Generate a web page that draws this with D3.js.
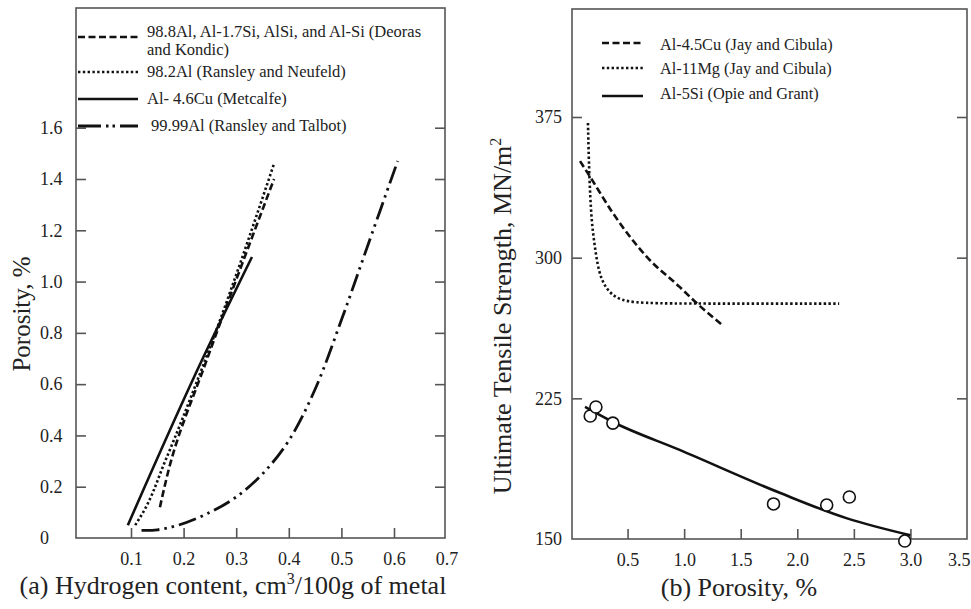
<!DOCTYPE html>
<html>
<head>
<meta charset="utf-8">
<script src="https://cdn.jsdelivr.net/npm/d3@7"></script>
<style>
  html, body { margin: 0; padding: 0; background: #fff; }
  svg { display: block; }
  text { font-family: "Liberation Serif", "Times New Roman", serif; fill: #222; }
</style>
</head>
<body>
<svg id="chart" width="971" height="609"></svg>
<script>
// ---------- DATA: panel (a) ----------
const aXTicks = [0.1, 0.2, 0.3, 0.4, 0.5, 0.6, 0.7];
const aYTicks = [0, 0.2, 0.4, 0.6, 0.8, 1.0, 1.2, 1.4, 1.6];
const aYTickLabels = ["0", "0.2", "0.4", "0.6", "0.8", "1.0", "1.2", "1.4", "1.6"];
const aDeorasH = [0.155, 0.176, 0.244, 0.372];
const aDeorasP = [0.12, 0.30, 0.694, 1.40];
const aNeufeldH = [0.108, 0.123, 0.165, 0.241, 0.372];
const aNeufeldP = [0.05, 0.10, 0.30, 0.694, 1.46];
const aMetcalfeH = [0.094, 0.235, 0.33];
const aMetcalfeP = [0.05, 0.694, 1.096];
const aTalbotH = [0.12, 0.15, 0.19, 0.25, 0.30, 0.35, 0.40, 0.45, 0.50, 0.55, 0.607];
const aTalbotP = [0.03, 0.032, 0.05, 0.10, 0.16, 0.25, 0.38, 0.58, 0.85, 1.14, 1.47];
const aLegend = [
  ["98.8Al, Al-1.7Si, AlSi, and Al-Si (Deoras", "and Kondic)"],
  ["98.2Al (Ransley and Neufeld)"],
  ["Al- 4.6Cu (Metcalfe)"],
  ["99.99Al (Ransley and Talbot)"]
];

// ---------- DATA: panel (b) ----------
const bXTicks = [0.5, 1.0, 1.5, 2.0, 2.5, 3.0, 3.5];
const bXTickLabels = ["0.5", "1.0", "1.5", "2.0", "2.5", "3.0", "3.5"];
const bYTicks = [150, 225, 300, 375];
const bCuPor = [0.08, 0.17, 0.37, 0.67, 0.96, 1.11, 1.34];
const bCuUTS = [351.5, 343, 323.8, 300.4, 284.4, 275.8, 264];
const bMgPor = [0.15, 0.16, 0.18, 0.21, 0.256, 0.37, 0.52, 1.0, 1.8, 2.37];
const bMgUTS = [371.8, 345, 320, 305.7, 288, 279, 275.8, 275.5, 275.5, 275.5];
const bSiPor = [0.124, 0.37, 0.96, 1.85, 2.44, 3.0];
const bSiUTS = [220.4, 212.4, 197.5, 174.5, 161, 152];
const bPtsPor = [0.17, 0.22, 0.37, 1.79, 2.26, 2.46, 2.95];
const bPtsUTS = [215.6, 220.4, 211.8, 168.7, 168.1, 172.4, 148.9];
const bLegend = ["Al-4.5Cu (Jay and Cibula)", "Al-11Mg (Jay and Cibula)", "Al-5Si (Opie and Grant)"];

const svg = d3.select("#chart");
const frameColor = "#555";
const serif = '"Liberation Serif", "Times New Roman", serif';
const zip = (xs, ys) => xs.map((x, i) => [x, ys[i]]);
const styleTicks = g => {
  g.select(".domain").remove();
  g.selectAll("line").attr("stroke", frameColor).attr("stroke-width", 1.6);
  g.selectAll("text").attr("font-size", 18).style("font-family", serif).attr("fill", "#222");
};

// ===================== PANEL (a) =====================
const ax = d3.scaleLinear().domain([0, 0.7]).range([78.4, 446.6]);
const ay = d3.scaleLinear().domain([0, 1.4]).range([538, 179]);
const aFrame = { x0: 76, x1: 445, y0: 8, y1: 538 };
const ga = svg.append("g");

ga.append("rect")
  .attr("x", aFrame.x0).attr("y", aFrame.y0)
  .attr("width", aFrame.x1 - aFrame.x0).attr("height", aFrame.y1 - aFrame.y0)
  .attr("fill", "none").attr("stroke", frameColor).attr("stroke-width", 1.6);

ga.append("g").attr("transform", `translate(${aFrame.x0},0)`)
  .call(d3.axisLeft(ay).tickValues(aYTicks).tickSize(-10).tickPadding(14)
    .tickFormat((d, i) => aYTickLabels[i]))
  .call(styleTicks)
  .call(g => {
    g.selectAll("line").filter(d => d === 0).remove();
    g.selectAll("text").attr("text-anchor", "start").attr("x", -36);
  });
ga.append("g").attr("transform", `translate(${aFrame.x1},0)`)
  .call(d3.axisRight(ay).tickValues(aYTicks.filter(d => d > 0)).tickSize(-10).tickFormat(""))
  .call(styleTicks);
ga.append("g").attr("transform", `translate(0,${aFrame.y1})`)
  .call(d3.axisBottom(ax).tickValues(aXTicks).tickSize(-10).tickPadding(14).tickFormat(d3.format(".1f")))
  .call(styleTicks)
  .call(g => g.selectAll("line").filter(d => d === 0.7).remove());

ga.append("text")
  .attr("transform", "translate(30,314) rotate(-90)")
  .attr("text-anchor", "middle").attr("font-size", 25)
  .text("Porosity, %");
const aXTitle = ga.append("text").attr("x", 233).attr("y", 594)
  .attr("text-anchor", "middle").attr("font-size", 26);
aXTitle.append("tspan").text("(a) Hydrogen content, cm");
aXTitle.append("tspan").attr("font-size", 16).attr("dy", -10).text("3");
aXTitle.append("tspan").attr("dy", 10).text("/100g of metal");

const aLine = d3.line().x(d => ax(d[0])).y(d => ay(d[1])).curve(d3.curveMonotoneY);
const aStyles = [
  { dash: "7,3.5", width: 2.6 },
  { dash: "2.4,2.4", width: 2.6 },
  { dash: null, width: 2.6 },
  { dash: "18,5,2.5,5,2.5,5", width: 2.8 }
];
const aSeries = [
  zip(aDeorasH, aDeorasP),
  zip(aNeufeldH, aNeufeldP),
  zip(aMetcalfeH, aMetcalfeP),
  zip(aTalbotH, aTalbotP)
];
aSeries.forEach((s, i) => {
  const gen = i === 3
    ? d3.line().x(d => ax(d[0])).y(d => ay(d[1])).curve(d3.curveCatmullRom)
    : aLine;
  ga.append("path").datum(s).attr("d", gen)
    .attr("fill", "none").attr("stroke", "#111")
    .attr("stroke-width", aStyles[i].width)
    .attr("stroke-dasharray", aStyles[i].dash);
});

const aLegRows = [
  { ly: 37, ty: [37, 55], tx: 147 },
  { ly: 72, ty: [77], tx: 147 },
  { ly: 99, ty: [104], tx: 147 },
  { ly: 126, ty: [131], tx: 151 }
];
aLegend.forEach((lines, i) => {
  const r = aLegRows[i];
  ga.append("line").attr("x1", 78).attr("x2", 138).attr("y1", r.ly).attr("y2", r.ly)
    .attr("stroke", "#111").attr("stroke-width", aStyles[i].width)
    .attr("stroke-dasharray", i === 3 ? "23,5,2.5,4,2.5,5" : aStyles[i].dash);
  lines.forEach((t, j) => {
    ga.append("text").attr("x", r.tx).attr("y", r.ty[j]).attr("font-size", 16.5).text(t);
  });
});

// ===================== PANEL (b) =====================
const bx = d3.scaleLinear().domain([0, 3.5]).range([571, 967]);
const by = d3.scaleLinear().domain([150, 375]).range([539, 117]);
const bFrame = { x0: 572, x1: 967, y0: 9, y1: 539 };
const gb = svg.append("g");

gb.append("rect")
  .attr("x", bFrame.x0).attr("y", bFrame.y0)
  .attr("width", bFrame.x1 - bFrame.x0).attr("height", bFrame.y1 - bFrame.y0)
  .attr("fill", "none").attr("stroke", frameColor).attr("stroke-width", 1.6);

gb.append("g").attr("transform", `translate(${bFrame.x0},0)`)
  .call(d3.axisLeft(by).tickValues(bYTicks).tickSize(-10).tickPadding(10).tickFormat(d3.format("d")))
  .call(styleTicks)
  .call(g => g.selectAll("line").filter(d => d === 150).remove());
gb.append("g").attr("transform", `translate(${bFrame.x1},0)`)
  .call(d3.axisRight(by).tickValues(bYTicks.filter(d => d > 150)).tickSize(-10).tickFormat(""))
  .call(styleTicks);
gb.append("g").attr("transform", `translate(0,${bFrame.y1})`)
  .call(d3.axisBottom(bx).tickValues(bXTicks).tickSize(-10).tickPadding(14)
    .tickFormat((d, i) => bXTickLabels[i]))
  .call(styleTicks)
  .call(g => {
    g.selectAll("line").filter(d => d === 3.5).remove();
    g.selectAll("text").filter(d => d === 3.5).attr("text-anchor", "end").attr("dx", 3);
  });

const bYTitle = gb.append("text")
  .attr("transform", "translate(511,316) rotate(-90)")
  .attr("text-anchor", "middle").attr("font-size", 26);
bYTitle.append("tspan").text("Ultimate Tensile Strength, MN/m");
bYTitle.append("tspan").attr("font-size", 16).attr("dy", -10).text("2");
gb.append("text").attr("x", 739).attr("y", 596)
  .attr("text-anchor", "middle").attr("font-size", 26).text("(b) Porosity, %");

const bStyles = [
  { dash: "7,3.5", width: 2.6 },
  { dash: "2.4,2.4", width: 2.6 },
  { dash: null, width: 2.6 }
];
const bSeries = [zip(bCuPor, bCuUTS), zip(bMgPor, bMgUTS), zip(bSiPor, bSiUTS)];
bSeries.forEach((s, i) => {
  const gen = d3.line().x(d => bx(d[0])).y(d => by(d[1]))
    .curve(i === 1 ? d3.curveBasis : d3.curveMonotoneX);
  gb.append("path").datum(s).attr("d", gen)
    .attr("fill", "none").attr("stroke", "#111")
    .attr("stroke-width", bStyles[i].width)
    .attr("stroke-dasharray", bStyles[i].dash);
});
gb.selectAll("circle.pt").data(zip(bPtsPor, bPtsUTS)).enter().append("circle")
  .attr("class", "pt")
  .attr("cx", d => bx(d[0])).attr("cy", d => by(d[1])).attr("r", 6)
  .attr("fill", "#fff").attr("stroke", "#111").attr("stroke-width", 1.6);

const bLegY = [43, 68, 96];
const bLegTY = [50, 74, 99];
bLegend.forEach((t, i) => {
  gb.append("line").attr("x1", 602).attr("x2", 643).attr("y1", bLegY[i]).attr("y2", bLegY[i])
    .attr("stroke", "#111").attr("stroke-width", bStyles[i].width)
    .attr("stroke-dasharray", bStyles[i].dash);
  gb.append("text").attr("x", 660).attr("y", bLegTY[i]).attr("font-size", 16.3).text(t);
});
</script>
</body>
</html>
